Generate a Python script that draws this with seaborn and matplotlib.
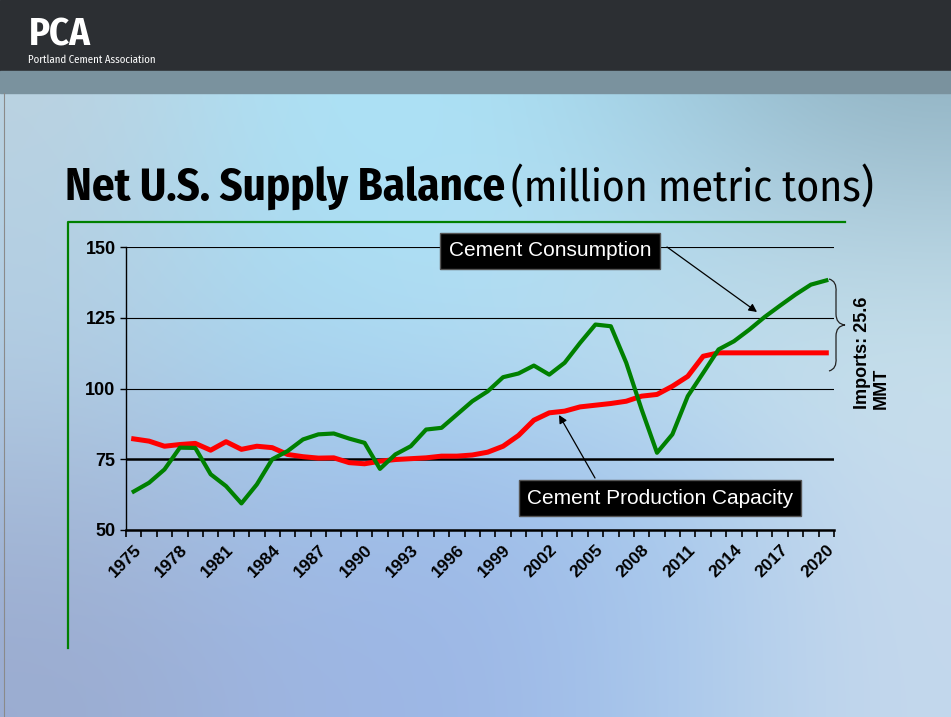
import numpy as np
import pandas as pd
import matplotlib
matplotlib.use("Agg")
import matplotlib.pyplot as plt
import seaborn as sns
from matplotlib.patches import Rectangle, PathPatch
from matplotlib.path import Path
from matplotlib.lines import Line2D
from matplotlib.transforms import Affine2D

# data (million metric tons)
years = list(range(1975, 2021))
consumption = [63.6, 66.7, 71.4, 79.1, 79.0, 69.7, 65.5, 59.4, 66.1, 75.0,
               77.9, 82.0, 83.8, 84.1, 82.3, 80.8, 71.6, 76.7, 79.6, 85.5,
               86.1, 90.8, 95.5, 99.0, 104.0, 105.3, 108.1, 104.9, 109.1, 116.1,
               122.6, 122.0, 109.1, 92.6, 77.3, 83.8, 97.3, 105.5, 113.8, 116.7,
               120.8, 125.3, 129.3, 133.2, 136.7, 138.2]
capacity = [82.2, 81.4, 79.6, 80.2, 80.6, 78.2, 81.2, 78.5, 79.6, 79.1,
            76.7, 75.9, 75.4, 75.5, 73.8, 73.4, 74.3, 74.9, 75.2, 75.5,
            76.1, 76.1, 76.5, 77.5, 79.6, 83.4, 88.8, 91.4, 92.0, 93.5,
            94.1, 94.7, 95.5, 97.3, 97.9, 100.8, 104.3, 111.4, 112.6, 112.6,
            112.6, 112.6, 112.6, 112.6, 112.6, 112.6]
tick_years = list(range(1975, 2021, 3))
y_ticks = [50, 75, 100, 125, 150]

COND = ["Fira Sans Condensed", "Archivo Narrow", "Liberation Sans", "DejaVu Sans"]
ARIAL = ["Liberation Sans", "DejaVu Sans"]

W, H = 951, 717
fig = plt.figure(figsize=(W / 100, H / 100), dpi=100)
renderer = fig.canvas.get_renderer()
# pixel coordinates on the slide (origin top-left)
px = Affine2D().scale(1 / W, -1 / H).translate(0, 1) + fig.transFigure


def fit_width(t, width_px):
    # scale a text's font size so it spans the given width in pixels
    w = t.get_window_extent(renderer).width
    t.set_fontsize(t.get_fontsize() * width_px / w)


# slide background
bg = fig.add_axes([0, 0, 1, 1], zorder=-10)
bg_colors = np.array([
    [[188, 210, 224], [172, 226, 246], [172, 226, 246], [160, 205, 225], [142, 176, 192]],
    [[182, 208, 226], [170, 222, 243], [176, 226, 246], [178, 215, 235], [175, 205, 220]],
    [[178, 204, 226], [168, 214, 240], [175, 218, 242], [190, 222, 238], [200, 225, 236]],
    [[165, 185, 215], [160, 192, 232], [158, 188, 232], [165, 200, 238], [198, 218, 236]],
    [[155, 172, 208], [158, 182, 226], [156, 182, 230], [168, 200, 236], [196, 216, 236]],
]) / 255.0
bg.imshow(bg_colors, extent=[0, W, H, 0], aspect="auto", interpolation="bicubic")
bg.set_xlim(0, W)
bg.set_ylim(H, 0)
bg.axis("off")
bg.add_patch(Rectangle((0, 0), W, 71, color="#2c2f33", zorder=2))
bg.add_patch(Rectangle((0, 71), W, 22, color="#7a929e", zorder=2))
bg.plot([4, 4], [93, H], color="#8a8a8a", lw=0.8, zorder=2)

# logo
logo = fig.text(29, 45, "PCA", transform=px, color="white", fontsize=30, fontweight="bold",
                family=COND, va="baseline")
fit_width(logo, 62)
sub = fig.text(28, 63, "Portland Cement Association", transform=px, color="white", fontsize=7,
               family=COND, va="baseline")
fit_width(sub, 128)

# title
t1 = fig.text(65, 201, "Net U.S. Supply Balance", transform=px, fontsize=34, fontweight="bold",
              family=COND, va="baseline")
fit_width(t1, 440)
t2 = fig.text(511, 201, "(million metric tons)", transform=px, fontsize=34,
              family=COND, va="baseline")
fit_width(t2, 364)

# green frame
fig.add_artist(Line2D([68, 68, 845], [648, 222, 222], transform=px, color="#008000", lw=1.6))

# chart
ax = fig.add_axes([126 / W, 1 - 530 / H, (834 - 126) / W, (530 - 247) / H])
ax.set_facecolor("none")
sns.lineplot(x=years, y=capacity, color="#ff0000", linewidth=3.6, ax=ax)
sns.lineplot(x=years, y=consumption, color="#008000", linewidth=3.0, ax=ax)

ax.set_xlim(1974.5, 2020.5)
ax.set_ylim(50, 150)
ax.set_yticks(y_ticks)
ax.set_yticklabels([str(v) for v in y_ticks], fontsize=13, fontweight="bold", family=ARIAL)
ax.set_xticks(tick_years)
ax.set_xticklabels([str(v) for v in tick_years], fontsize=12.5, fontweight="bold",
                   family=ARIAL, rotation=45, ha="right", rotation_mode="anchor")
ax.set_xticks(np.arange(1974.5, 2021, 1), minor=True)
ax.tick_params(axis="x", which="major", length=0, pad=9)
ax.tick_params(axis="x", which="minor", length=5, width=1.2, color="black")
ax.tick_params(axis="y", length=4.5, width=1, color="black", pad=3)
ax.grid(axis="y", color="black", lw=0.8)
ax.grid(axis="x", visible=False)
ax.yaxis.get_gridlines()[1].set_linewidth(1.8)
for side in ["top", "right"]:
    ax.spines[side].set_visible(False)
ax.spines["left"].set_color("black")
ax.spines["left"].set_linewidth(1.0)
ax.spines["bottom"].set_color("black")
ax.spines["bottom"].set_linewidth(1.8)
ax.set_xlabel("")
ax.set_ylabel("")

# callouts
box = dict(boxstyle="square,pad=0.4", fc="black", ec="#555555", lw=1)
fig.text(550, 251, "Cement Consumption", transform=px, color="white", fontsize=15,
         family=ARIAL, ha="center", va="center", bbox=box)
fig.text(660, 498, "Cement Production Capacity", transform=px, color="white", fontsize=15,
         family=ARIAL, ha="center", va="center", bbox=box)
arrow = dict(arrowstyle="-|>", color="black", lw=0.9, mutation_scale=12, shrinkA=0, shrinkB=0)
ax.annotate("", xy=(757, 312), xycoords=px, xytext=(667, 247), textcoords=px, arrowprops=arrow)
ax.annotate("", xy=(559, 415), xycoords=px, xytext=(595, 478), textcoords=px, arrowprops=arrow)

# brace for imports gap
verts = [(829, 279), (837, 281), (836, 292), (836, 314), (836, 324), (845, 325),
         (836, 326), (836, 336), (836, 358), (837, 369), (829, 371)]
codes = [Path.MOVETO, Path.CURVE3, Path.CURVE3, Path.LINETO, Path.CURVE3, Path.CURVE3,
         Path.CURVE3, Path.CURVE3, Path.LINETO, Path.CURVE3, Path.CURVE3]
fig.add_artist(PathPatch(Path(verts, codes), transform=px, fc="none", ec="#222222", lw=0.9))
fig.text(872, 353, "Imports: 25.6\nMMT", transform=px, rotation=90, ha="center", va="center",
         multialignment="left", fontsize=13, fontweight="bold", family=ARIAL, linespacing=1.1)

fig.savefig("out.png", dpi=100)
